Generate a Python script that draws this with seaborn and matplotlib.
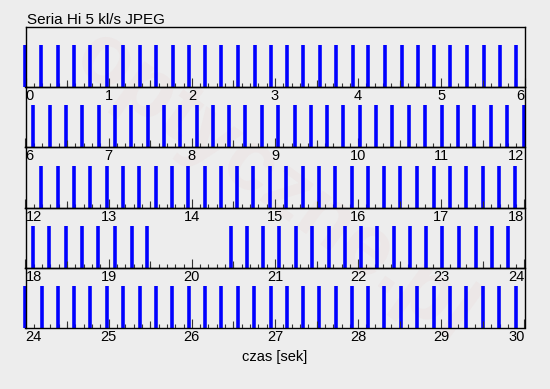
import matplotlib
matplotlib.use("Agg")
import matplotlib.pyplot as plt
from matplotlib.ticker import MultipleLocator
import seaborn as sns
import numpy as np

# frame times [s], one list per 6-second strip
row1 = [-0.005, 0.188, 0.388, 0.588, 0.78, 0.98, 1.172, 1.372, 1.572, 1.772,
        1.964, 2.164, 2.356, 2.556, 2.756, 2.948, 3.14, 3.34, 3.54, 3.732,
        3.932, 4.124, 4.324, 4.524, 4.716, 4.916, 5.108, 5.308, 5.508, 5.7, 5.9]
row2 = [6.092, 6.292, 6.484, 6.684, 6.884, 7.076, 7.268, 7.468, 7.668, 7.86,
        8.06, 8.252, 8.452, 8.644, 8.844, 9.036, 9.236, 9.428, 9.628, 9.82,
        10.02, 10.212, 10.412, 10.612, 10.804, 11.004, 11.204, 11.396, 11.596,
        11.788, 11.995]
row3 = [12.188, 12.388, 12.58, 12.78, 12.98, 13.172, 13.364, 13.564, 13.764,
        13.956, 14.156, 14.348, 14.548, 14.74, 14.94, 15.132, 15.332, 15.532,
        15.724, 15.924, 16.124, 16.316, 16.508, 16.708, 16.908, 17.1, 17.3,
        17.5, 17.692, 17.884]
row4 = [18.092, 18.284, 18.484, 18.684, 18.876, 19.076, 19.276, 19.46,
        20.468, 20.66, 20.86, 21.052, 21.252, 21.444, 21.644, 21.836, 22.036,
        22.228, 22.428, 22.628, 22.82, 23.012, 23.212, 23.412, 23.604, 23.804]
row5 = [23.995, 24.196, 24.388, 24.588, 24.78, 24.98, 25.172, 25.372, 25.572,
        25.764, 25.964, 26.156, 26.356, 26.556, 26.748, 26.948, 27.14, 27.34,
        27.532, 27.732, 27.924, 28.124, 28.316, 28.516, 28.708, 28.908, 29.108,
        29.3, 29.5, 29.692, 29.892]
rows = [row1, row2, row3, row4, row5]
row_starts = [0, 6, 12, 18, 24]
row_span = 6

title = "Seria Hi 5 kl/s JPEG"
xlabel = "czas [sek]"

bg = "#ededed"
sns.set_theme(style="white", rc={"figure.facecolor": bg, "axes.facecolor": "none"})
plt.rcParams["font.family"] = ["Liberation Sans", "DejaVu Sans"]

W, H = 550, 389
fig = plt.figure(figsize=(W / 100, H / 100), dpi=100)

left, right, top, ph = 25.5, 524.5, 27.0, 60.2
px = 0.72  # points per pixel

# faint site watermark, behind the strips
fig.text(0.5, 0.52, "optyczne.pl", ha="center", va="center", rotation=-36,
         fontsize=62, fontweight="bold", color="#e03030", alpha=0.035,
         zorder=0)

for i, (times, t0) in enumerate(zip(rows, row_starts)):
    bot = top + ph * (i + 1)
    ax = fig.add_axes([left / W, 1 - bot / H, (right - left) / W, ph / H])
    ax.set_zorder(1)
    sns.rugplot(x=times, ax=ax, height=42 / ph, color="#0000ff",
                linewidth=3.6 * px, clip_on=False, expand_margins=False)
    ax.set_xlim(t0, t0 + row_span)
    ax.set_ylim(0, 1)
    ax.set_yticks([])

    ticks = list(range(t0, t0 + row_span + 1))
    ax.set_xticks(ticks)
    labs = ax.set_xticklabels([str(t) for t in ticks])
    labs[0].set_ha("left")
    labs[-1].set_ha("right")
    ax.xaxis.set_minor_locator(MultipleLocator(0.1))

    ax.tick_params(axis="x", which="both", bottom=True, top=False,
                   direction="in", color="#333333")
    ax.tick_params(axis="x", which="major", length=9 * px, width=0.8,
                   labelsize=10.5, pad=1.5, labelcolor="black")
    ax.tick_params(axis="x", which="minor", length=4.5 * px, width=0.8)
    # half-second ticks
    ax.vlines(np.arange(t0 + 0.5, t0 + row_span, 1), 0, 7 / ph,
              transform=ax.get_xaxis_transform(), color="#333333", lw=0.8)

    for s in ax.spines.values():
        s.set_visible(True)
        s.set_color("black")
        s.set_linewidth(1.0)

fig.text(27 / W, 1 - 24.5 / H, title, ha="left", va="baseline", fontsize=11,
         color="black")
fig.text(275 / W, 1 - 357 / H, xlabel, ha="center", va="center", fontsize=10.5,
         color="black")

fig.savefig("out.png", dpi=100, facecolor=bg)
